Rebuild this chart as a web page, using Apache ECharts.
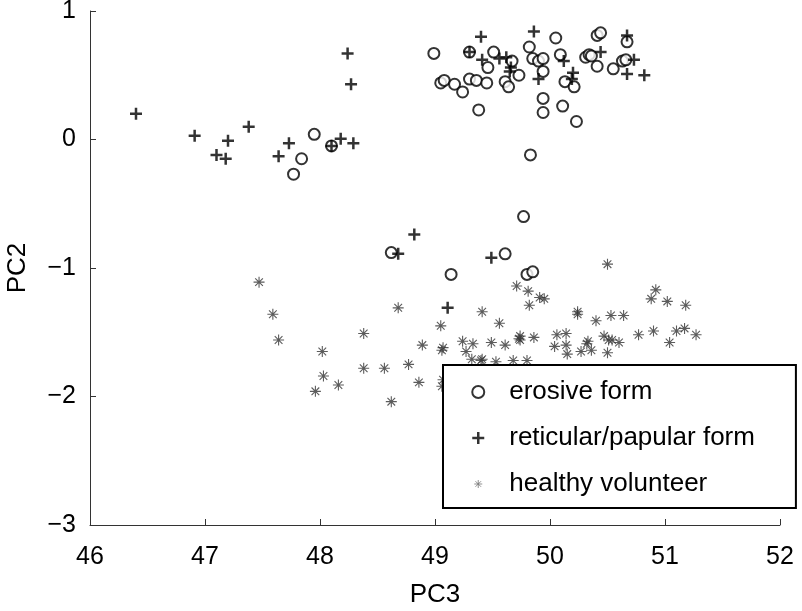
<!DOCTYPE html>
<html>
<head>
<meta charset="utf-8">
<script src="https://cdn.jsdelivr.net/npm/echarts@6/dist/echarts.min.js"></script>
<style>html,body{margin:0;padding:0;background:#fff}#c{width:802px;height:611px}</style>
</head>
<body>
<div id="c"></div>
<script>
var xTicks = [46, 47, 48, 49, 50, 51, 52];
var yTicks = [-3, -2, -1, 0, 1];
var seriesNames = ['erosive form', 'reticular/papular form', 'healthy volunteer'];

var erosive = [
  [48.99,0.67],[49.05,0.44],[49.08,0.46],[49.17,0.43],[49.24,0.37],[49.30,0.47],[49.30,0.68],[49.36,0.46],
  [49.38,0.23],[49.45,0.44],[49.46,0.56],[49.51,0.68],[49.61,0.45],[49.64,0.41],[49.67,0.61],[49.73,0.50],
  [49.82,0.72],[49.85,0.63],[49.90,0.61],[49.94,0.63],[49.94,0.53],[49.94,0.32],[49.94,0.21],[50.05,0.79],
  [50.09,0.66],[50.11,0.26],[50.13,0.45],[50.21,0.41],[50.23,0.14],[50.31,0.64],[50.34,0.66],[50.36,0.65],
  [50.41,0.57],[50.41,0.81],[50.44,0.83],[50.55,0.55],[50.63,0.61],[50.66,0.62],[50.67,0.76],
  [47.95,0.04],[47.84,-0.15],[47.77,-0.27],[48.10,-0.05],
  [49.83,-0.12],[49.77,-0.60],[49.61,-0.89],[49.14,-1.05],[49.80,-1.05],[49.85,-1.03],[48.62,-0.88]
];
var reticular = [
  [46.40,0.20],[46.91,0.03],[47.20,-0.01],[47.10,-0.12],[47.18,-0.15],[47.38,0.10],[47.64,-0.13],[47.73,-0.03],
  [48.24,0.67],[48.27,0.43],[48.18,0.005],[48.29,-0.03],[48.10,-0.05],
  [49.40,0.80],[49.30,0.68],[49.41,0.62],[49.56,0.63],[49.62,0.64],[49.66,0.56],[49.65,0.53],[49.86,0.84],
  [49.90,0.47],[50.12,0.61],[50.20,0.52],[50.19,0.47],[50.44,0.68],[50.67,0.81],[50.73,0.62],[50.67,0.51],[50.82,0.50],
  [48.82,-0.74],[49.49,-0.92],[48.68,-0.89],[49.11,-1.31]
];
var healthy = [
  [47.47,-1.11],[47.59,-1.36],[47.64,-1.56],[48.02,-1.65],[48.03,-1.84],[47.96,-1.96],[48.16,-1.91],[48.38,-1.51],
  [48.38,-1.78],[48.56,-1.78],[48.62,-2.04],[48.68,-1.31],[48.77,-1.75],[48.86,-1.89],[48.89,-1.60],[49.05,-1.45],
  [49.07,-1.62],[49.06,-1.64],[49.07,-1.87],[49.06,-1.92],[49.24,-1.57],[49.33,-1.59],[49.27,-1.65],[49.32,-1.71],
  [49.41,-1.71],[49.41,-1.34],[49.49,-1.58],[49.56,-1.43],
  [49.71,-1.14],[49.81,-1.18],[49.82,-1.29],[49.91,-1.23],[49.95,-1.24],[50.50,-0.97],[49.61,-1.60],[49.74,-1.53],
  [49.74,-1.56],[49.73,-1.55],[49.86,-1.54],[50.24,-1.34],[50.24,-1.36],[50.40,-1.41],[50.53,-1.37],[50.64,-1.37],
  [50.06,-1.52],[50.14,-1.51],[50.04,-1.61],[50.14,-1.60],[50.15,-1.67],[50.27,-1.65],[50.32,-1.59],[50.33,-1.57],
  [50.36,-1.64],[50.47,-1.53],[50.51,-1.56],[50.54,-1.56],[50.60,-1.58],[50.50,-1.66],[50.77,-1.52],[50.90,-1.49],
  [50.92,-1.17],[50.88,-1.24],[51.02,-1.26],[51.18,-1.29],[51.10,-1.49],[51.17,-1.47],[51.27,-1.52],[51.04,-1.58],
  [49.40,-1.72],[49.53,-1.73],[49.68,-1.72],[49.80,-1.72]
];

var FONT = '"Liberation Sans", Arial, Helvetica, sans-serif';
var plusPath = 'path://M-1,0L1,0M0,-1L0,1';
var starPath = 'path://M-1,0L1,0M0,-1L0,1M-0.7,-0.7L0.7,0.7M-0.7,0.7L0.7,-0.7';
var starLegendPath = 'path://M-1.5,-1.5L-1.5,-1.5M1.5,1.5L1.5,1.5M-1,0L1,0M0,-1L0,1M-0.7,-0.7L0.7,0.7M-0.7,0.7L0.7,-0.7';

var chart = echarts.init(document.getElementById('c'), null, {renderer: 'canvas'});
chart.setOption({
  animation: false,
  backgroundColor: '#fff',
  grid: {left: 90, right: 22, top: 11, bottom: 86, containLabel: false, outerBoundsMode: 'none'},
  xAxis: {
    type: 'value', min: xTicks[0], max: xTicks[xTicks.length - 1], interval: 1,
    name: 'PC3', nameLocation: 'middle', nameGap: 57,
    nameTextStyle: {fontFamily: FONT, fontSize: 26, color: '#000'},
    axisLine: {show: true, onZero: false, lineStyle: {color: '#333', width: 1}},
    axisTick: {show: true, inside: true, length: 6, lineStyle: {color: '#333'}},
    axisLabel: {fontFamily: FONT, fontSize: 25, color: '#000', margin: 20},
    splitLine: {show: false}
  },
  yAxis: {
    type: 'value', min: yTicks[0], max: yTicks[yTicks.length - 1], interval: 1,
    name: 'PC2', nameLocation: 'middle', nameGap: 59,
    nameTextStyle: {fontFamily: FONT, fontSize: 26, color: '#000'},
    axisLine: {show: true, onZero: false, lineStyle: {color: '#333', width: 1}},
    axisTick: {show: true, inside: true, length: 6, lineStyle: {color: '#333'}},
    axisLabel: {fontFamily: FONT, fontSize: 25, color: '#000', margin: 14,
      formatter: function (v) { return v < 0 ? '\u2212' + Math.abs(v) : String(v); }},
    splitLine: {show: false}
  },
  legend: {
    orient: 'vertical', left: 443, top: 365,
    padding: [14, 41, 11, 28],
    itemWidth: 52, itemHeight: 12, itemGap: 20,
    borderColor: '#000', borderWidth: 2, backgroundColor: '#fff',
    textStyle: {fontFamily: FONT, fontSize: 26, color: '#000'},
    data: [
      {name: seriesNames[0], icon: 'emptyCircle', itemStyle: {color: '#000', borderColor: '#000', borderWidth: 2}},
      {name: seriesNames[1], icon: plusPath, itemStyle: {color: '#000', borderColor: '#000', borderWidth: 2.5}},
      {name: seriesNames[2], icon: starLegendPath, itemStyle: {color: '#777', borderColor: '#777', borderWidth: 1}}
    ],
    selectedMode: false
  },
  series: [
    {
      name: seriesNames[0], type: 'scatter', data: erosive,
      symbol: 'emptyCircle', symbolSize: 11,
      itemStyle: {color: '#000', borderColor: '#000', borderWidth: 2},
      z: 3
    },
    {
      name: seriesNames[1], type: 'scatter', data: reticular,
      symbol: plusPath, symbolSize: 12,
      itemStyle: {color: '#000', borderColor: '#000', borderWidth: 2.5},
      z: 3
    },
    {
      name: seriesNames[2], type: 'scatter', data: healthy,
      symbol: starPath, symbolSize: 11,
      itemStyle: {color: '#333', borderColor: '#333', borderWidth: 1.1},
      z: 2
    }
  ]
});
</script>
</body>
</html>
